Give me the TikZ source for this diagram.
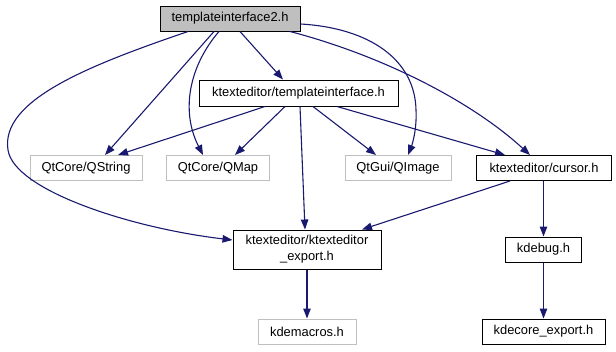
\documentclass[tikz,border=0pt]{standalone}
\usepackage{fontspec}
\setmainfont{Liberation Sans}
\usetikzlibrary{arrows.meta,calc}
\definecolor{edgec}{HTML}{191970}
\definecolor{greyb}{HTML}{BFBFBF}
\begin{document}
\begin{tikzpicture}[x=1pt,y=-1pt,
  box/.style={draw=black,line width=1pt,rectangle,inner sep=0pt,align=center,
    font=\fontsize{12.9}{16}\selectfont,text=black},
  gbox/.style={box,draw=greyb},
  edge/.style={draw=edgec,line width=1.1pt,-{Triangle[length=10pt,width=7.5pt]}}]
\useasboundingbox (0,0) rectangle (616,351);
\node[box,fill=greyb,minimum width=140pt,minimum height=25pt] (t2) at (230,18.5) {templateinterface2.h};
\node[box,minimum width=199pt,minimum height=26pt] (ti) at (298.5,93) {ktexteditor/templateinterface.h};
\node[gbox,minimum width=112pt,minimum height=25pt] (qs) at (86,168) {QtCore/QString};
\node[gbox,minimum width=103pt,minimum height=25pt] (qm) at (218,168) {QtCore/QMap};
\node[gbox,minimum width=106pt,minimum height=25pt] (qi) at (398,168) {QtGui/QImage};
\node[box,minimum width=135pt,minimum height=25pt] (cur) at (544,168) {ktexteditor/cursor.h};
\node[box,minimum width=148pt,minimum height=39pt] (exp) at (307,249.5) {ktexteditor/ktexteditor\\\_export.h};
\node[gbox,minimum width=98pt,minimum height=25pt] (kdm) at (307,331.5) {kdemacros.h};
\node[box,minimum width=76pt,minimum height=25pt] (kdb) at (543.5,249.5) {kdebug.h};
\node[box,minimum width=123pt,minimum height=25pt] (kdc) at (543.5,331.5) {kdecore\_export.h};

\draw[edge] ($(t2.south)+(10,0)$) -- ($(ti.north)+(-15.5,0)$);
\draw[edge] ($(t2.south)+(-16,0)$) -- ($(qs.north)+(19,0)$);
\draw[edge] ($(t2.south)+(-11,0)$) .. controls (190,65) and (180,110) .. ($(qm.north)+(-15,0)$);
\draw[edge] ($(t2.south)+(-42,0)$) .. controls (90,65) and (0,100) .. (8,150) .. controls (14,190) and (130,228) .. ($(exp.west)+(0,-9.5)$);
\draw[edge] ($(t2.east)+(0,5.5)$) .. controls (370,28) and (415,60) .. (416,110) .. controls (417,130) and (412,145) .. ($(qi.north)+(10,0)$);
\draw[edge] ($(t2.south)+(60,0)$) .. controls (380,55) and (470,100) .. ($(cur.north)+(-14,0)$);
\draw[edge] ($(ti.south)+(-33.5,0)$) -- ($(qs.north)+(32,0)$);
\draw[edge] ($(ti.south)+(-13.5,0)$) -- ($(qm.north)+(17,0)$);
\draw[edge] ($(ti.south)+(1.5,0)$) -- ($(exp.north)+(-2,0)$);
\draw[edge] ($(ti.south)+(14.5,0)$) -- ($(qi.north)+(-22,0)$);
\draw[edge] ($(ti.south)+(38.5,0)$) -- ($(cur.north)+(-39,0)$);
\draw[edge] ($(cur.south)+(-34,0)$) -- ($(exp.north)+(55,0)$);
\draw[edge] ($(cur.south)+(-0.5,0)$) -- (kdb.north);
\draw[edge] (exp.south) -- (kdm.north);
\draw[edge] (kdb.south) -- (kdc.north);
\end{tikzpicture}
\end{document}
